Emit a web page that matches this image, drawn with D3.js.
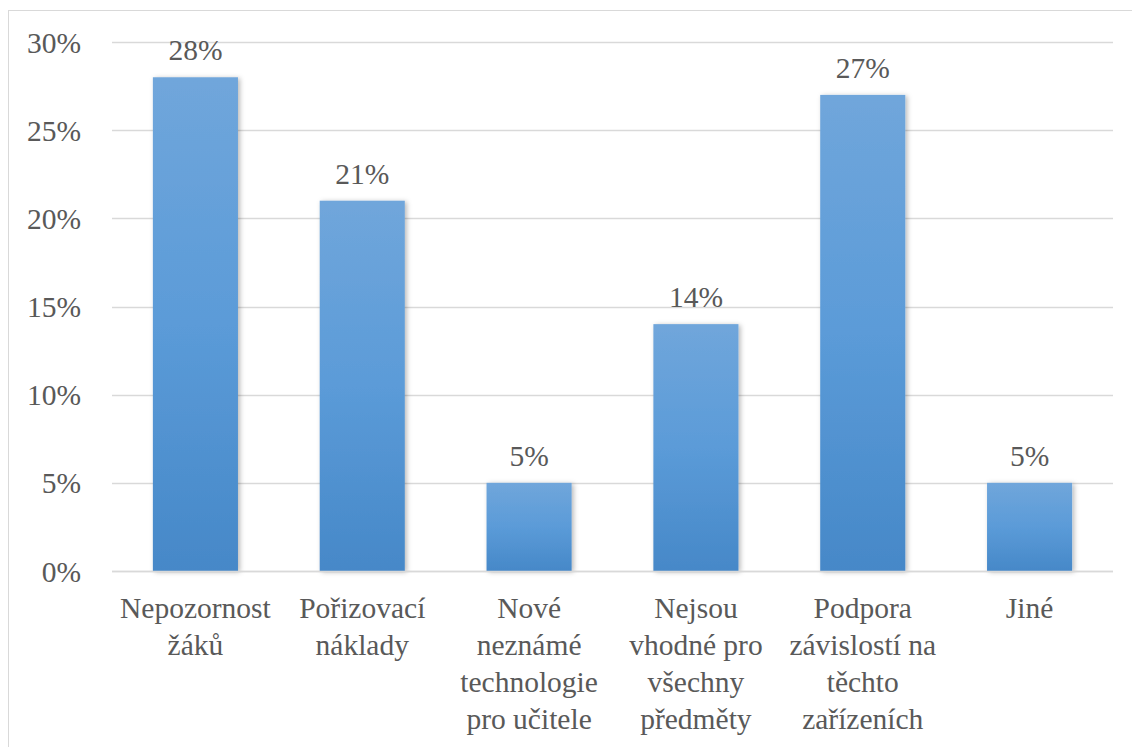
<!DOCTYPE html>
<html>
<head>
<meta charset="utf-8">
<script src="https://cdn.jsdelivr.net/npm/d3@7"></script>
<style>
  html, body { margin: 0; padding: 0; background: #fff; }
  svg { display: block; }
</style>
</head>
<body>
<svg id="barplot" width="1132" height="747"></svg>
<script>
// Category labels, each split into its printed lines
const categories = [
  ["Nepozornost", "žáků"],
  ["Pořizovací", "náklady"],
  ["Nové", "neznámé", "technologie", "pro učitele"],
  ["Nejsou", "vhodné pro", "všechny", "předměty"],
  ["Podpora", "závislostí na", "těchto", "zařízeních"],
  ["Jiné"]
];
const values = [28, 21, 5, 14, 27, 5];
const yTicks = [0, 5, 10, 15, 20, 25, 30];

const svg = d3.select("#barplot");
const W = 1132, H = 747;
const plotLeft = 112, plotRight = 1113, plotTop = 42, plotBottom = 571;
const fontFamily = "'Liberation Serif', Tinos, 'Times New Roman', serif";
const fontSize = "29.5px";
const textColor = "#595959";

// apply the serif face to a text selection
function serifText(sel) {
  sel.attr("font-family", "Liberation Serif")
    .style("font-family", fontFamily, "important")
    .style("font-size", fontSize, "important")
    .style("fill", textColor);
}

// chart frame
svg.append("rect")
  .attr("x", 8.5).attr("y", 10.5)
  .attr("width", W).attr("height", H)
  .attr("fill", "#fff").attr("stroke", "#d9d9d9").attr("stroke-width", 1);

const defs = svg.append("defs");
const grad = defs.append("linearGradient")
  .attr("id", "barFill").attr("x1", 0).attr("y1", 0).attr("x2", 0).attr("y2", 1);
grad.append("stop").attr("offset", "0%").attr("stop-color", "#70a6db");
grad.append("stop").attr("offset", "50%").attr("stop-color", "#5b9bd8");
grad.append("stop").attr("offset", "100%").attr("stop-color", "#4688c8");

const shadow = defs.append("filter").attr("id", "barShadow")
  .attr("x", "-20%").attr("y", "-10%").attr("width", "140%").attr("height", "120%");
shadow.append("feDropShadow")
  .attr("dx", 2).attr("dy", 1).attr("stdDeviation", 2.5)
  .attr("flood-color", "#000").attr("flood-opacity", 0.28);

const x = d3.scaleBand()
  .domain(d3.range(values.length))
  .range([plotLeft, plotRight])
  .paddingInner(0.49)
  .paddingOuter(0.245);

const y = d3.scaleLinear().domain([0, 30]).range([plotBottom, plotTop]);

// horizontal gridlines
svg.append("g")
  .selectAll("line")
  .data(yTicks)
  .join("line")
  .attr("x1", plotLeft).attr("x2", plotRight)
  .attr("y1", d => Math.round(y(d)) + 0.5)
  .attr("y2", d => Math.round(y(d)) + 0.5)
  .attr("stroke", "#d9d9d9").attr("stroke-width", 1.3);

// y axis tick labels
const yAxis = d3.axisLeft(y).tickValues(yTicks).tickSize(0).tickPadding(0)
  .tickFormat(d => d + "%");
const yg = svg.append("g").attr("transform", `translate(81,0)`).call(yAxis);
yg.attr("font-family", null).attr("font-size", null);
yg.select(".domain").remove();
yg.selectAll("text").attr("dy", "0.34em").call(serifText);

// bars
svg.append("g")
  .selectAll("rect")
  .data(values)
  .join("rect")
  .attr("x", (d, i) => x(i))
  .attr("y", d => y(d))
  .attr("width", x.bandwidth())
  .attr("height", d => y(0) - y(d))
  .attr("fill", "url(#barFill)")
  .attr("filter", "url(#barShadow)");

// baseline on top of bars
svg.append("line")
  .attr("x1", plotLeft).attr("x2", plotRight)
  .attr("y1", Math.round(y(0)) + 0.5).attr("y2", Math.round(y(0)) + 0.5)
  .attr("stroke", "#d9d9d9").attr("stroke-width", 1.5);

// value labels
svg.append("g")
  .selectAll("text")
  .data(values)
  .join("text")
  .attr("x", (d, i) => x(i) + x.bandwidth() / 2)
  .attr("y", d => y(d) - 17)
  .attr("text-anchor", "middle")
  .call(serifText)
  .text(d => d + "%");

// category labels
const cat = svg.append("g")
  .selectAll("text")
  .data(categories)
  .join("text")
  .attr("x", (d, i) => x(i) + x.bandwidth() / 2)
  .attr("y", 618)
  .attr("text-anchor", "middle")
  .call(serifText);
cat.selectAll("tspan")
  .data(d => d)
  .join("tspan")
  .attr("x", function () { return d3.select(this.parentNode).attr("x"); })
  .attr("y", (d, j) => 618 + j * 37)
  .text(d => d);
</script>
</body>
</html>
